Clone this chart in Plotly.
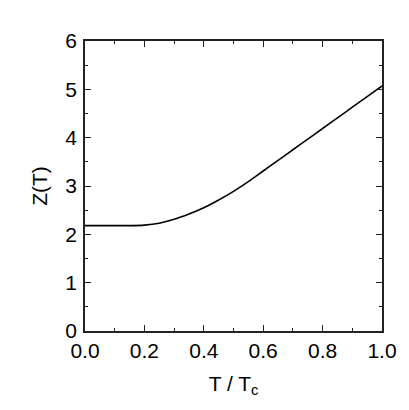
import plotly.graph_objects as go

# T / Tc
t_ratio = [0.0, 0.05, 0.1, 0.15, 0.2, 0.25, 0.3, 0.35, 0.4, 0.45, 0.5,
           0.55, 0.6, 0.65, 0.7, 0.75, 0.8, 0.85, 0.9, 0.95, 1.0]
# Z(T)
z_vals = [2.18, 2.18, 2.18, 2.18, 2.19, 2.23, 2.31, 2.42, 2.55, 2.71, 2.89,
          3.09, 3.31, 3.53, 3.75, 3.97, 4.19, 4.41, 4.63, 4.85, 5.07]

x_ticks = [0.0, 0.2, 0.4, 0.6, 0.8, 1.0]
x_labels = ["0.0", "0.2", "0.4", "0.6", "0.8", "1.0"]
y_ticks = [0, 1, 2, 3, 4, 5, 6]

font = "Liberation Sans, Arial, sans-serif"

fig = go.Figure()
fig.add_trace(
    go.Scatter(
        x=t_ratio,
        y=z_vals,
        mode="lines",
        line=dict(color="black", width=1.6, shape="spline"),
        showlegend=False,
    )
)

axis_common = dict(
    showline=True,
    linecolor="#222222",
    linewidth=1.5,
    mirror="ticks",
    ticks="inside",
    ticklen=6,
    tickwidth=1.2,
    tickcolor="#222222",
    showgrid=False,
    zeroline=False,
    tickfont=dict(family=font, size=21, color="black"),
)

# the page body adds an 8px margin, so the figure is a little smaller than the window
fig.update_layout(
    width=401,
    height=402,
    paper_bgcolor="white",
    plot_bgcolor="white",
    margin=dict(l=77, r=27, t=33, b=79, autoexpand=False),
    xaxis=dict(
        axis_common,
        range=[0, 1],
        tickvals=x_ticks,
        ticktext=x_labels,
        ticklabelstandoff=0,
        minor=dict(dtick=0.1, ticks="inside", ticklen=3, tickwidth=1.2, tickcolor="#222222"),
        title=dict(text="T / T<sub>c</sub>", font=dict(family=font, size=21, color="black"), standoff=15),
    ),
    yaxis=dict(
        axis_common,
        range=[0, 6],
        tickvals=y_ticks,
        ticklabelstandoff=2,
        minor=dict(dtick=0.5, ticks="inside", ticklen=3, tickwidth=1.2, tickcolor="#222222"),
        title=dict(text="Z(T)", font=dict(family=font, size=21, color="black"), standoff=12),
    ),
)

fig.write_html("out.html")
